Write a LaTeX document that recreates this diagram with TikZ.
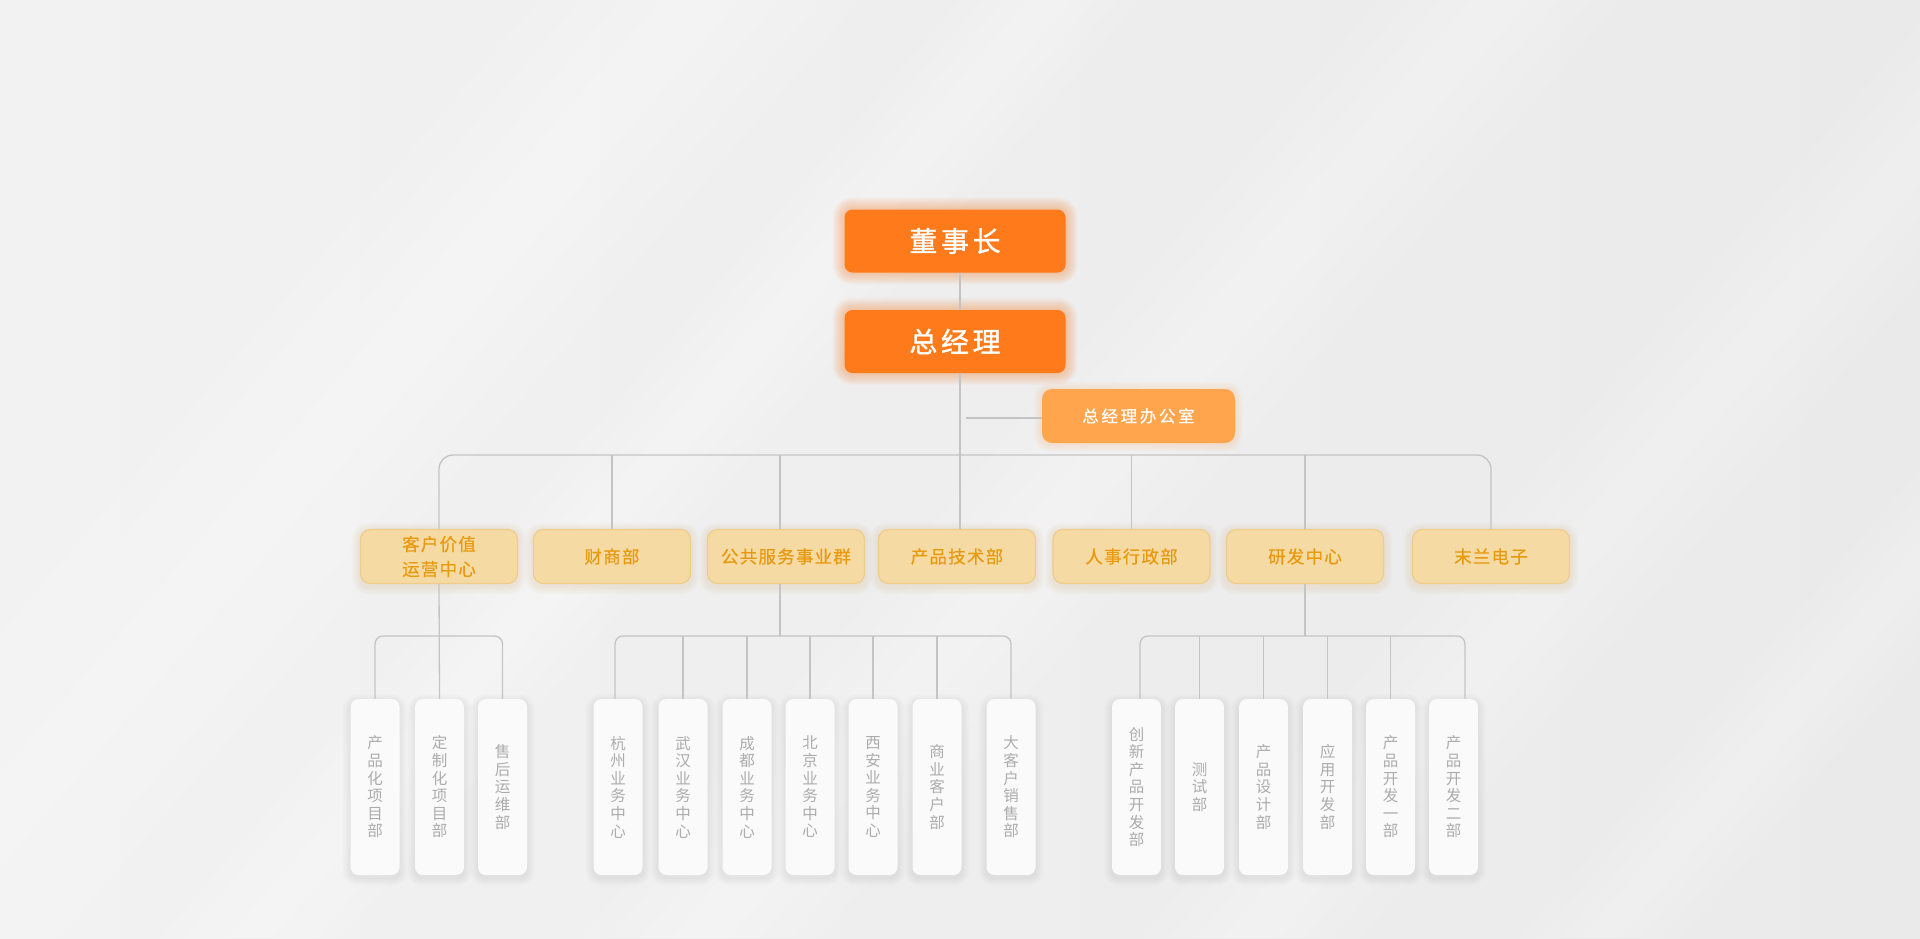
\documentclass[tikz,border=0pt]{standalone}
\usepackage{fontspec}
\newfontfamily\cjktop[LetterSpace=13,FakeBold=1.2]{Noto Sans CJK SC}
\newfontfamily\cjkoff[LetterSpace=16,FakeBold=0.4]{Noto Sans CJK SC}
\newfontfamily\cjkmid[LetterSpace=7,FakeBold=0.4]{Noto Sans CJK SC}
\newfontfamily\cjklow{Noto Sans CJK SC}
\definecolor{topor}{HTML}{FF7A1A}
\definecolor{offor}{HTML}{FFA54E}
\definecolor{lvfill}{HTML}{F5DAA3}
\definecolor{lvdraw}{HTML}{EFCC8A}
\definecolor{lvtext}{HTML}{E8990E}
\definecolor{lvglow}{HTML}{E8B050}
\definecolor{subfill}{HTML}{FAFAFA}
\definecolor{subtext}{HTML}{ACACAC}
\definecolor{wirec}{HTML}{C4C4C4}
\definecolor{bgL}{HTML}{F2F2F2}
\definecolor{bgR}{HTML}{EAEAEA}
\pgfdeclarelayer{bgzero}
\pgfdeclarelayer{halo}
\pgfsetlayers{bgzero,halo,main}
% #1 node, #2 colour, #3 steps, #4 step, #5 opacity, #6 downward offset
\newcommand\halo[6]{%
  \foreach \i [evaluate=\i as \d using \i*#4,
               evaluate=\i as \r using 8+\i*#4,
               evaluate=\i as \up using \i*#4-#6,
               evaluate=\i as \dn using -\i*#4-#6] in {1,...,#3}{%
    \fill[#2, opacity=#5, rounded corners=\r pt]
      ([xshift=-\d pt, yshift=\up pt]#1.north west) rectangle
      ([xshift=\d pt, yshift=\dn pt]#1.south east);}}
% soft diagonal light band: bottom x, top x, half width, bottom y, top y
\newcommand\band[5]{%
  \foreach \w/\o in {#3/0.08, {#3*0.75}/0.08, {#3*0.5}/0.08, {#3*0.25}/0.1}{%
    \fill[white, opacity=\o] ({#1-\w},#4) -- ({#1+\w},#4) -- ({#2+\w},#5) -- ({#2-\w},#5) -- cycle;}}
\begin{document}
\begin{tikzpicture}[x=1pt,y=-1pt,
  topbox/.style={rectangle, rounded corners=8pt, fill=topor, minimum width=221pt,
    minimum height=63pt, inner sep=0pt, text=white,
    font=\cjktop\fontsize{28}{30}\selectfont},
  officebox/.style={rectangle, rounded corners=10pt, fill=offor, minimum width=193pt,
    minimum height=54pt, inner sep=0pt, text=white,
    font=\cjkoff\fontsize{16.5}{20}\selectfont},
  lvbox/.style={rectangle, rounded corners=10pt, fill=lvfill, draw=lvdraw, line width=1.2pt,
    minimum width=157pt, minimum height=54pt, inner sep=0pt, text=lvtext, align=center,
    font=\cjkmid\fontsize{17.5}{25}\selectfont},
  subbox/.style={rectangle, rounded corners=8pt, fill=subfill, minimum width=49pt,
    minimum height=176pt, inner sep=0pt, text=subtext, align=center,
    font=\cjklow\fontsize{15.5}{17.6}\selectfont},
  wire/.style={draw=wirec, line width=1.3pt}]
\useasboundingbox (0,0) rectangle (1920,938);
\begin{pgfonlayer}{bgzero}
  \shade[left color=bgL, right color=bgR] (0,0) rectangle (1920,938);
  \begin{scope}
    \clip (0,0) rectangle (1920,938);
    \band{-100}{700}{160}{938}{0}
    \band{250}{1050}{90}{938}{0}
    \band{700}{1500}{120}{938}{0}
    \band{1250}{2050}{110}{938}{0}
    \band{1600}{2400}{80}{938}{0}
  \end{scope}
\end{pgfonlayer}

% ---------- nodes ----------
\node[topbox] (dsz) at (955,241) {董事长};
\node[topbox] (zjl) at (955,341.5) {总经理};
\node[officebox] (ban) at (1138.5,416) {总经理办公室};

\node[lvbox] (l1) at (439,556.5) {客户价值\\运营中心};
\node[lvbox] (l2) at (612,556.5) {财商部};
\node[lvbox] (l3) at (786,556.5) {公共服务事业群};
\node[lvbox] (l4) at (957,556.5) {产品技术部};
\node[lvbox] (l5) at (1131.5,556.5) {人事行政部};
\node[lvbox] (l6) at (1305,556.5) {研发中心};
\node[lvbox] (l7) at (1491,556.5) {末兰电子};

\node[subbox] (a1) at (375,787) {产\\品\\化\\项\\目\\部};
\node[subbox] (a2) at (439.5,787) {定\\制\\化\\项\\目\\部};
\node[subbox] (a3) at (502.5,787) {售\\后\\运\\维\\部};

\node[subbox] (b1) at (618,787) {杭\\州\\业\\务\\中\\心};
\node[subbox] (b2) at (683,787) {武\\汉\\业\\务\\中\\心};
\node[subbox] (b3) at (747,787) {成\\都\\业\\务\\中\\心};
\node[subbox] (b4) at (810,787) {北\\京\\业\\务\\中\\心};
\node[subbox] (b5) at (873,787) {西\\安\\业\\务\\中\\心};
\node[subbox] (b6) at (937,787) {商\\业\\客\\户\\部};
\node[subbox] (b7) at (1011,787) {大\\客\\户\\销\\售\\部};

\node[subbox] (c1) at (1136.5,787) {创\\新\\产\\品\\开\\发\\部};
\node[subbox] (c2) at (1199.5,787) {测\\试\\部};
\node[subbox] (c3) at (1263.5,787) {产\\品\\设\\计\\部};
\node[subbox] (c4) at (1327.5,787) {应\\用\\开\\发\\部};
\node[subbox] (c5) at (1390.5,787) {产\\品\\开\\发\\一\\部};
\node[subbox] (c6) at (1453.5,787) {产\\品\\开\\发\\二\\部};

% ---------- halos and shadows ----------
\begin{pgfonlayer}{halo}
  \halo{dsz}{topor}{12}{1}{0.03}{0}
  \halo{zjl}{topor}{12}{1}{0.03}{0}
  \halo{ban}{offor}{8}{1}{0.025}{1}
  \foreach \n in {l1,l2,l3,l4,l5,l6,l7}{\halo{\n}{lvglow}{8}{1}{0.02}{2}}
  \foreach \n in {a1,a2,a3,b1,b2,b3,b4,b5,b6,b7,c1,c2,c3,c4,c5,c6}{\halo{\n}{black}{8}{1}{0.008}{3}}
\end{pgfonlayer}

% ---------- connectors ----------
\coordinate (bus) at (960,455);
\coordinate (sb) at (960,636);
\coordinate (ofl) at (966,418);
\coordinate (ds) at ([xshift=5pt]dsz.south);
\coordinate (zn) at ([xshift=5pt]zjl.north);
\coordinate (zs) at ([xshift=5pt]zjl.south);
\coordinate (l3n) at ([xshift=-6pt]l3.north);
\coordinate (l3s) at ([xshift=-6pt]l3.south);
\coordinate (b1n) at ([xshift=-3pt]b1.north);
\coordinate (c1n) at ([xshift=3.5pt]c1.north);
\coordinate (c6n) at ([xshift=11.5pt]c6.north);

\draw[wire] (ds) -- (zn);
\draw[wire] (zs) -- (zs |- l4.north);
\draw[wire] (ofl) -- (ofl -| ban.west);

\draw[wire, rounded corners=14pt] (l1.north) -- (l1.north |- bus) -- (l7.north |- bus) -- (l7.north);
\draw[wire] (l2.north |- bus) -- (l2.north);
\draw[wire] (l3n |- bus) -- (l3n);
\draw[wire] (l5.north |- bus) -- (l5.north);
\draw[wire] (l6.north |- bus) -- (l6.north);

% group under l1
\draw[wire] (l1.south) -- (a2.north);
\draw[wire, rounded corners=8pt] (a1.north) -- (a1.north |- sb) -- (a3.north |- sb) -- (a3.north);

% group under l3
\draw[wire] (l3s) -- (l3s |- sb);
\draw[wire, rounded corners=8pt] (b1n) -- (b1n |- sb) -- (b7.north |- sb) -- (b7.north);
\foreach \n in {b2,b3,b4,b5,b6}{\draw[wire] (\n.north |- sb) -- (\n.north);}

% group under l6
\draw[wire] (l6.south) -- (l6.south |- sb);
\draw[wire, rounded corners=8pt] (c1n) -- (c1n |- sb) -- (c6n |- sb) -- (c6n);
\foreach \n in {c2,c3,c4,c5}{\draw[wire] (\n.north |- sb) -- (\n.north);}
\end{tikzpicture}
\end{document}
